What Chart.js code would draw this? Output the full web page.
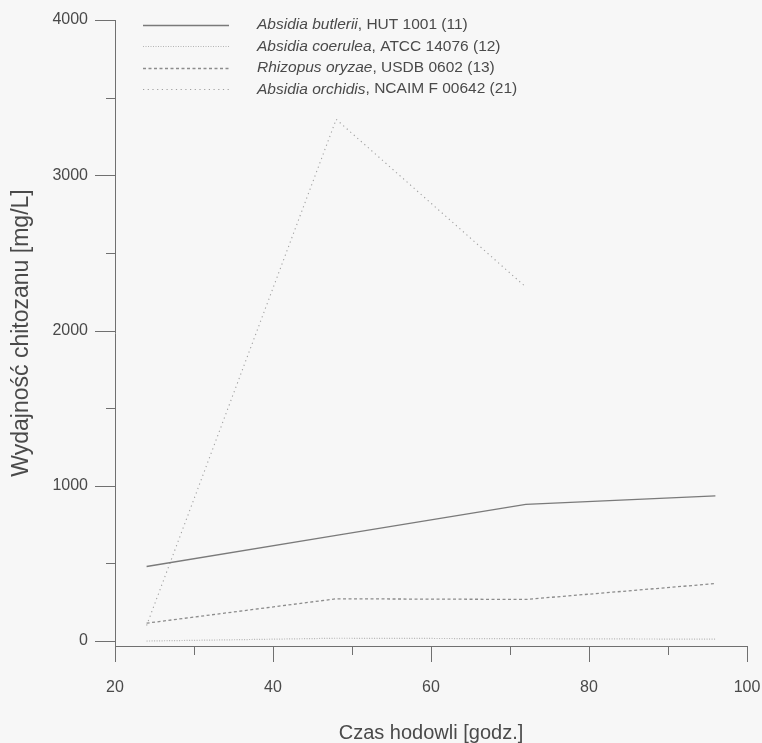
<!DOCTYPE html>
<html>
<head>
<meta charset="utf-8">
<script src="https://cdn.jsdelivr.net/npm/chart.js@4/dist/chart.umd.min.js"></script>
<style>
  html, body { margin: 0; padding: 0; background: #f7f7f7; }
  #wrap { width: 762px; height: 743px; }
</style>
</head>
<body>
<div id="wrap"><canvas id="chitosanChart"></canvas></div>
<script>
// Dane z wykresu
const hours = [24, 48, 72, 96];
const butlerii = [480, 680, 880, 935];
const coerulea = [0, 18, 15, 12];
const oryzae = [115, 272, 268, 370];
const orchidis = [100, 3360, 2280, null];

const speciesNames = ["Absidia butlerii", "Absidia coerulea", "Rhizopus oryzae", "Absidia orchidis"];
const strainNames = [", HUT 1001 (11)", ", ATCC 14076 (12)", ", USDB 0602 (13)", ", NCAIM F 00642 (21)"];

const xMajorTicks = [20, 40, 60, 80, 100];
const xMinorTicks = [30, 50, 70, 90];
const yMajorTicks = [0, 1000, 2000, 3000, 4000];
const yMinorTicks = [500, 1500, 2500, 3500];

const textColor = "#4a4a4a";
const axisColor = "#707070";
const family = "'Liberation Sans', Arial, sans-serif";

function toPoints(values) {
    return hours.map((h, i) => ({ x: h, y: values[i] }));
}

// Tło
const background = {
    id: "background",
    beforeDraw(chart) {
        const ctx = chart.ctx;
        ctx.save();
        ctx.fillStyle = "#f7f7f7";
        ctx.fillRect(0, 0, chart.width, chart.height);
        ctx.restore();
    }
};

// Kreski podziałek (długie i krótkie)
const axisTicks = {
    id: "axisTicks",
    afterDraw(chart) {
        const ctx = chart.ctx;
        const xs = chart.scales.x;
        const ys = chart.scales.y;
        const area = chart.chartArea;
        ctx.save();
        ctx.strokeStyle = axisColor;
        ctx.lineWidth = 1;
        ctx.beginPath();
        xMajorTicks.forEach(v => {
            const px = Math.round(xs.getPixelForValue(v)) + 0.5;
            ctx.moveTo(px, area.bottom);
            ctx.lineTo(px, area.bottom + 16);
        });
        xMinorTicks.forEach(v => {
            const px = Math.round(xs.getPixelForValue(v)) + 0.5;
            ctx.moveTo(px, area.bottom);
            ctx.lineTo(px, area.bottom + 9);
        });
        yMajorTicks.forEach(v => {
            const py = Math.round(ys.getPixelForValue(v)) + 0.5;
            ctx.moveTo(area.left, py);
            ctx.lineTo(area.left - 20, py);
        });
        yMinorTicks.forEach(v => {
            const py = Math.round(ys.getPixelForValue(v)) + 0.5;
            ctx.moveTo(area.left, py);
            ctx.lineTo(area.left - 9, py);
        });
        ctx.stroke();
        ctx.restore();
    }
};

// Legenda: nazwa gatunku kursywą, szczep zwykłą czcionką
const lineLegend = {
    id: "lineLegend",
    afterDraw(chart) {
        const ctx = chart.ctx;
        ctx.save();
        chart.data.datasets.forEach((ds, i) => {
            const y = 25 + i * 21.4;
            ctx.strokeStyle = ds.borderColor;
            ctx.lineWidth = ds.borderWidth;
            ctx.setLineDash(ds.borderDash || []);
            ctx.beginPath();
            ctx.moveTo(143, Math.round(y) + 0.5);
            ctx.lineTo(229, Math.round(y) + 0.5);
            ctx.stroke();
            ctx.setLineDash([]);

            ctx.fillStyle = textColor;
            ctx.textBaseline = "middle";
            ctx.textAlign = "left";
            ctx.font = "italic 15.5px " + family;
            ctx.fillText(speciesNames[i], 257, y);
            const w = ctx.measureText(speciesNames[i]).width;
            ctx.font = "15.5px " + family;
            ctx.fillText(strainNames[i], 257 + w, y);
        });
        ctx.restore();
    }
};

function noEdgePadding(scale) {
    scale.paddingLeft = 0;
    scale.paddingRight = 0;
    scale.paddingTop = 0;
    scale.paddingBottom = 0;
}

const ctx = document.getElementById("chitosanChart").getContext("2d");
new Chart(ctx, {
    type: "line",
    data: {
        datasets: [
            {
                label: speciesNames[0] + strainNames[0],
                data: toPoints(butlerii),
                borderColor: "#7a7a7a",
                borderWidth: 1.3,
                borderDash: []
            },
            {
                label: speciesNames[1] + strainNames[1],
                data: toPoints(coerulea),
                borderColor: "#b4b4b4",
                borderWidth: 1.2,
                borderDash: [1, 1.5]
            },
            {
                label: speciesNames[2] + strainNames[2],
                data: toPoints(oryzae),
                borderColor: "#8c8c8c",
                borderWidth: 1.3,
                borderDash: [3, 2.5]
            },
            {
                label: speciesNames[3] + strainNames[3],
                data: toPoints(orchidis),
                borderColor: "#a0a0a0",
                borderWidth: 1.1,
                borderDash: [1.2, 3.5]
            }
        ]
    },
    options: {
        responsive: true,
        maintainAspectRatio: false,
        animation: false,
        spanGaps: false,
        elements: {
            point: { radius: 0 },
            line: { tension: 0, fill: false }
        },
        layout: { padding: { top: 20, right: 15, left: 0, bottom: 0 } },
        plugins: {
            legend: { display: false },
            tooltip: { enabled: false }
        },
        scales: {
            x: {
                type: "linear",
                min: 20,
                max: 100,
                afterBuildTicks: scale => {
                    scale.ticks = xMajorTicks.map(v => ({ value: v }));
                },
                afterFit: scale => {
                    scale.height = 97;
                    noEdgePadding(scale);
                },
                grid: { display: false, drawTicks: false },
                border: { display: true, color: axisColor, width: 1 },
                ticks: {
                    padding: 32,
                    color: textColor,
                    font: { family: family, size: 16 },
                    maxRotation: 0,
                    callback: v => String(v)
                },
                title: {
                    display: true,
                    text: "Czas hodowli [godz.]",
                    color: textColor,
                    font: { family: family, size: 20, lineHeight: 1 },
                    padding: 0
                }
            },
            y: {
                type: "linear",
                min: -32,
                max: 4000,
                afterBuildTicks: scale => {
                    scale.ticks = yMajorTicks.map(v => ({ value: v }));
                },
                afterFit: scale => {
                    scale.width = 115;
                    noEdgePadding(scale);
                },
                grid: { display: false, drawTicks: false },
                border: { display: true, color: axisColor, width: 1 },
                ticks: {
                    padding: 27,
                    color: textColor,
                    font: { family: family, size: 16 },
                    callback: v => String(v)
                },
                title: {
                    display: true,
                    text: "Wydajność chitozanu [mg/L]",
                    color: textColor,
                    font: { family: family, size: 23, lineHeight: 1.2 },
                    padding: { top: 8, bottom: 0 }
                }
            }
        }
    },
    plugins: [background, axisTicks, lineLegend]
});
</script>
</body>
</html>
